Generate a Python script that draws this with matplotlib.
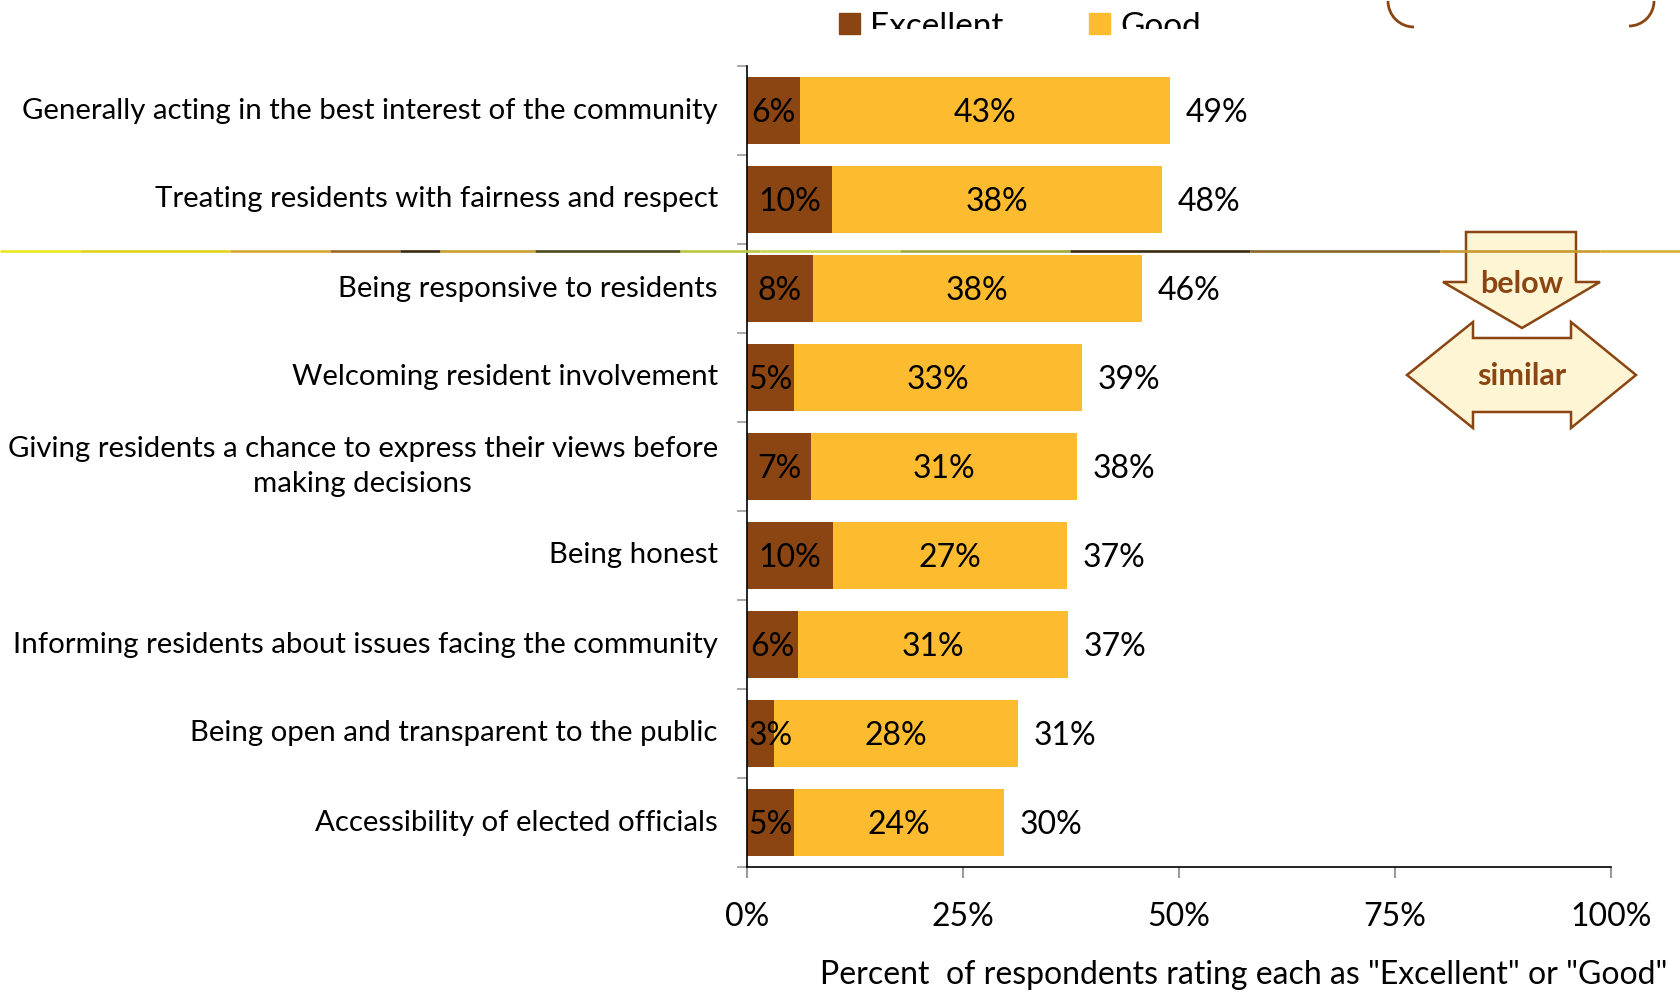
import numpy as np
import matplotlib.pyplot as plt
from matplotlib.patches import Polygon, Rectangle, Arc
from matplotlib.collections import LineCollection

plt.rcParams['font.family'] = ['Lato', 'DejaVu Sans']

categories = [
    "Generally acting in the best interest of the community",
    "Treating residents with fairness and respect",
    "Being responsive to residents",
    "Welcoming resident involvement",
    "Giving residents a chance to express their views before\nmaking decisions",
    "Being honest",
    "Informing residents about issues facing the community",
    "Being open and transparent to the public",
    "Accessibility of elected officials",
]
excellent = [6.1, 9.8, 7.6, 5.4, 7.4, 10.0, 5.9, 3.1, 5.4]
good = [42.9, 38.2, 38.1, 33.4, 30.8, 27.0, 31.3, 28.3, 24.4]
xticks = [0, 25, 50, 75, 100]

brown = '#8B4513'
gold = '#FDBB2F'
cream = '#FDF5D4'

fig = plt.figure(figsize=(16.8, 9.93), dpi=100)
ax = fig.add_axes([747 / 1680, 1 - 867 / 993, 864 / 1680, 801 / 993])

y = np.arange(len(categories))
ax.barh(y, excellent, height=0.76, color=brown)
ax.barh(y, good, left=excellent, height=0.76, color=gold)

# labels sit a touch below the bar centre, as in the original
for i, (e, g) in enumerate(zip(excellent, good)):
    ty = i + 0.03
    ax.text(max(e / 2, 2.75), ty, f"{e:.0f}%", ha='center', va='center', fontsize=23)
    ax.text(e + g / 2, ty, f"{g:.0f}%", ha='center', va='center', fontsize=23)
    ax.text(e + g + 1.8, ty, f"{e + g:.0f}%", ha='left', va='center', fontsize=23)

ax.set_xlim(0, 100)
ax.set_ylim(len(categories) - 0.5, -0.5)
ax.set_xticks(xticks)
ax.set_xticklabels([f"{t}%" for t in xticks], fontsize=23)
ax.set_yticks(y)
ax.set_yticklabels(categories, fontsize=21.2, multialignment='center', linespacing=1.45)
for lab in ax.get_yticklabels():
    lab.set_va('center')
ax.set_yticks(np.arange(len(categories) + 1) - 0.5, minor=True)
ax.tick_params(axis='y', which='major', length=0, pad=21)
ax.tick_params(axis='y', which='minor', length=7, width=1.2, color='#999999')
ax.tick_params(axis='x', length=8, width=1.5, color='#999999', pad=17)
for s in ['top', 'right']:
    ax.spines[s].set_visible(False)
for s in ['left', 'bottom']:
    ax.spines[s].set_linewidth(1.2)
    ax.spines[s].set_color('black')

fig.text(1667 / 1680, 1 - 975 / 993,
         'Percent  of respondents rating each as "Excellent" or "Good"',
         ha='right', va='center', fontsize=23)

# overlay in pixel coordinates for decorations
ov = fig.add_axes([0, 0, 1, 1], zorder=5)
ov.set_xlim(0, 1680)
ov.set_ylim(993, 0)
ov.axis('off')
ov.patch.set_alpha(0)

# the thin multicoloured line
stops_x = [0, 80, 230, 330, 400, 440, 535, 680, 760, 900, 1070, 1250, 1440, 1600, 1680]
stops_c = ['#E8E61E', '#E2D21E', '#D2A833', '#9A6A2A', '#3A2810', '#C8A030', '#4A4A20',
           '#B8C840', '#C8D850', '#A0A838', '#3A2A10', '#8A6428', '#C89A30', '#D8B030', '#EEE020']
segs = [[(stops_x[k], 251), (stops_x[k + 1], 251)] for k in range(len(stops_x) - 1)]
ov.add_collection(LineCollection(segs, colors=stops_c[:-1], linewidths=1.9))

# legend (clipped at the top of the picture)
clip = Rectangle((780, 0), 500, 29, transform=ov.transData, visible=False)
ov.add_patch(clip)
for x0, col, lab in [(839, brown, 'Excellent'), (1089, gold, 'Good')]:
    ov.add_patch(Rectangle((x0, 13), 21, 21, color=col))
    t = ov.text(x0 + 31, 36, lab, fontsize=24, va='baseline', ha='left', clip_on=True)
    t.set_clip_path(clip)

# rounded corners at top right
ov.add_patch(Arc((1414, 1), 52, 52, theta1=90, theta2=180, color=brown, lw=2))
ov.add_patch(Arc((1629, 1), 50, 50, theta1=0, theta2=90, color=brown, lw=2))

# arrows
down = [(1466, 232), (1576, 232), (1576, 282), (1600, 282), (1522, 328), (1443, 282), (1466, 282)]
both = [(1407, 375), (1473, 322), (1473, 338), (1571, 338), (1571, 322), (1636, 375),
        (1571, 428), (1571, 412), (1473, 412), (1473, 428)]
for pts in [down, both]:
    ov.add_patch(Polygon(pts, closed=True, facecolor=cream, edgecolor=brown, lw=1.8))
ov.text(1522, 284, 'below', ha='center', va='center', fontsize=22, fontweight='bold', color=brown)
ov.text(1522, 376, 'similar', ha='center', va='center', fontsize=22, fontweight='bold', color=brown)

fig.savefig('out.png', dpi=100)
